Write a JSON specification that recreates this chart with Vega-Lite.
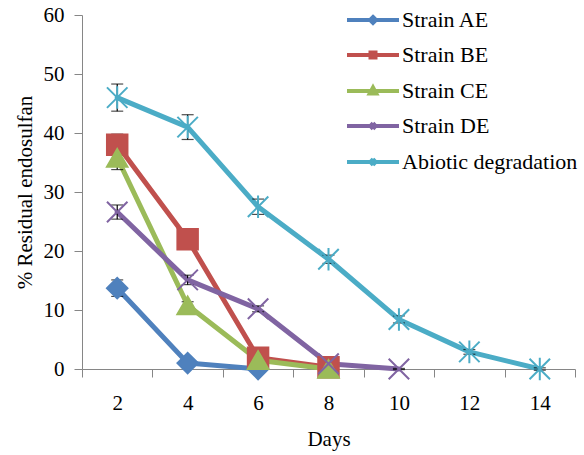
{
  "$schema": "https://vega.github.io/schema/vega-lite/v6.json",
  "width": 493,
  "height": 354,
  "autosize": "none",
  "padding": {"left": 82, "top": 15, "right": 9, "bottom": 86},
  "background": "white",
  "config": {
    "view": {"stroke": null},
    "font": "Liberation Serif",
    "axis": {
      "labelFont": "Liberation Serif",
      "titleFont": "Liberation Serif",
      "labelFontSize": 21,
      "titleFontSize": 21,
      "labelColor": "black",
      "titleColor": "black",
      "titleFontWeight": "normal",
      "domainColor": "#868686",
      "tickColor": "#868686",
      "tickSize": 8,
      "grid": false
    },
    "legend": {
      "labelFont": "Liberation Serif",
      "labelFontSize": 22,
      "labelColor": "black",
      "labelLimit": 0
    }
  },
  "resolve": {
    "scale": {"shape": "independent", "color": "independent"},
    "legend": {"shape": "independent", "color": "independent"}
  },
  "data": {
    "values": [
      {"day": 2, "series": "Strain AE", "value": 13.7, "err": 1.4},
      {"day": 4, "series": "Strain AE", "value": 1.0, "err": 0.3},
      {"day": 6, "series": "Strain AE", "value": 0.0, "err": 0.0},
      {"day": 2, "series": "Strain BE", "value": 38.0, "err": 1.8},
      {"day": 4, "series": "Strain BE", "value": 22.0, "err": 1.0},
      {"day": 6, "series": "Strain BE", "value": 1.9, "err": 0.5},
      {"day": 8, "series": "Strain BE", "value": 0.3, "err": 0.2},
      {"day": 2, "series": "Strain CE", "value": 35.8, "err": 2.0},
      {"day": 4, "series": "Strain CE", "value": 10.8, "err": 0.6},
      {"day": 6, "series": "Strain CE", "value": 1.5, "err": 0.3},
      {"day": 8, "series": "Strain CE", "value": 0.0, "err": 0.0},
      {"day": 2, "series": "Strain DE", "value": 26.6, "err": 1.2},
      {"day": 4, "series": "Strain DE", "value": 15.1, "err": 0.8},
      {"day": 6, "series": "Strain DE", "value": 10.2, "err": 0.5},
      {"day": 8, "series": "Strain DE", "value": 0.9, "err": 0.3},
      {"day": 10, "series": "Strain DE", "value": 0.0, "err": 0.1},
      {"day": 2, "series": "Abiotic degradation", "value": 46.0, "err": 2.3},
      {"day": 4, "series": "Abiotic degradation", "value": 41.0, "err": 2.1},
      {"day": 6, "series": "Abiotic degradation", "value": 27.5, "err": 1.3},
      {"day": 8, "series": "Abiotic degradation", "value": 18.6, "err": 0.7},
      {"day": 10, "series": "Abiotic degradation", "value": 8.4, "err": 0.6},
      {"day": 12, "series": "Abiotic degradation", "value": 2.9, "err": 0.4},
      {"day": 14, "series": "Abiotic degradation", "value": 0.0, "err": 0.2}
    ]
  },
  "encoding": {
    "x": {
      "field": "day",
      "type": "ordinal",
      "scale": {"type": "band", "domain": [2, 4, 6, 8, 10, 12, 14], "paddingInner": 0, "paddingOuter": 0},
      "axis": {"title": "Days", "labelAngle": 0, "tickBand": "extent", "labelPadding": 15, "titlePadding": 15, "labelFont": "Liberation Serif", "titleFont": "Liberation Serif"}
    },
    "y": {
      "field": "value",
      "type": "quantitative",
      "scale": {"domain": [0, 60], "nice": false},
      "axis": {"title": "% Residual endosulfan", "values": [0, 10, 20, 30, 40, 50, 60], "labelPadding": 10, "titlePadding": 8, "labelFont": "Liberation Serif", "titleFont": "Liberation Serif"}
    }
  },
  "layer": [
    {
      "mark": {"type": "line", "strokeWidth": 5, "strokeJoin": "round", "strokeCap": "round"},
      "encoding": {
        "color": {
          "field": "series",
          "type": "nominal",
          "scale": {
            "domain": ["Strain AE", "Strain BE", "Strain CE", "Strain DE", "Abiotic degradation"],
            "range": ["#4F81BD", "#C0504D", "#9BBB59", "#8064A2", "#4BACC6"]
          },
          "legend": null
        }
      }
    },
    {
      "mark": {"type": "errorbar", "ticks": {"size": 12, "color": "black", "thickness": 1.2}, "rule": {"color": "black", "strokeWidth": 1.2}},
      "encoding": {
        "y": {"field": "value", "type": "quantitative"},
        "yError": {"field": "err"}
      }
    },
    {
      "mark": {"type": "point", "filled": true, "size": 420, "strokeWidth": 2, "opacity": 1},
      "encoding": {
        "color": {
          "field": "series",
          "type": "nominal",
          "scale": {
            "domain": ["Strain AE", "Strain BE", "Strain CE", "Strain DE", "Abiotic degradation"],
            "range": ["#4F81BD", "#C0504D", "#9BBB59", "#8064A2", "#4BACC6"]
          },
          "legend": null
        },
        "stroke": {
          "field": "series",
          "type": "nominal",
          "scale": {
            "domain": ["Strain AE", "Strain BE", "Strain CE", "Strain DE", "Abiotic degradation"],
            "range": ["#4F81BD", "#C0504D", "#9BBB59", "#8064A2", "#4BACC6"]
          },
          "legend": null
        },
        "shape": {
          "field": "series",
          "type": "nominal",
          "scale": {
            "domain": ["Strain AE", "Strain BE", "Strain CE", "Strain DE", "Abiotic degradation"],
            "range": ["diamond", "square", "triangle-up", "M-1,-1L1,1M1,-1L-1,1", "M-1,-1L1,1M1,-1L-1,1M0,-1.1L0,1.1"]
          },
          "legend": null
        }
      }
    },
    {
      "mark": {"type": "point", "filled": false, "opacity": 0, "strokeWidth": 4},
      "encoding": {
        "color": {
          "field": "series",
          "type": "nominal",
          "scale": {
            "domain": ["Strain AE", "Strain BE", "Strain CE", "Strain DE", "Abiotic degradation"],
            "range": ["#4F81BD", "#C0504D", "#9BBB59", "#8064A2", "#4BACC6"]
          },
          "legend": {
            "title": null,
            "orient": "none",
            "legendX": 280,
            "legendY": -6,
            "padding": 0,
            "rowPadding": 13,
            "labelOffset": 18,
            "labelLimit": 0,
            "symbolSize": 100,
            "symbolStrokeWidth": 4,
            "symbolOpacity": 1
          }
        },
        "shape": {
          "field": "series",
          "type": "nominal",
          "scale": {
            "domain": ["Strain AE", "Strain BE", "Strain CE", "Strain DE", "Abiotic degradation"],
            "range": [
              "M-5.2,0L5.2,0M0,-0.6L0.6,0L0,0.6L-0.6,0Z",
              "M-5.2,0L5.2,0M-0.5,-0.5L0.5,-0.5L0.5,0.5L-0.5,0.5Z",
              "M-5.2,0L5.2,0M0,-0.7L0.65,0.5L-0.65,0.5Z",
              "M-5.2,0L5.2,0M-0.55,-0.55L0.55,0.55M0.55,-0.55L-0.55,0.55",
              "M-5.2,0L5.2,0M-0.55,-0.55L0.55,0.55M0.55,-0.55L-0.55,0.55M0,-0.7L0,0.7"
            ]
          },
          "legend": {
            "title": null,
            "orient": "none",
            "legendX": 280,
            "legendY": -6,
            "padding": 0,
            "rowPadding": 13,
            "labelOffset": 18,
            "labelLimit": 0,
            "symbolSize": 100,
            "symbolStrokeWidth": 4,
            "symbolOpacity": 1
          }
        }
      }
    }
  ]
}
